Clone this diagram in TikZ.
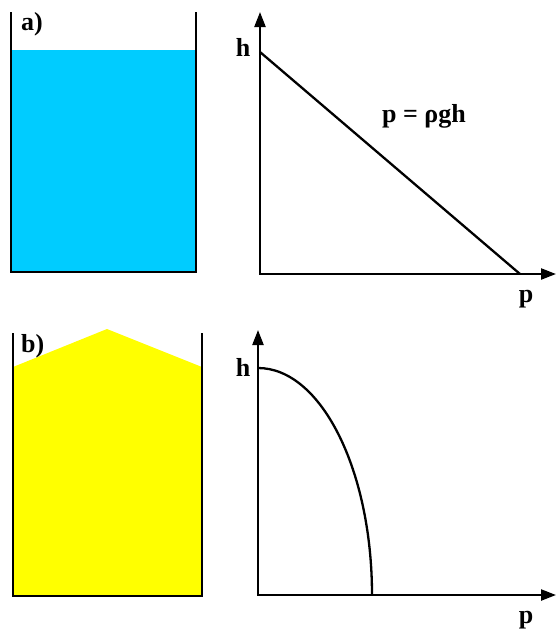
\documentclass[tikz,border=0pt]{standalone}
\usepackage{fontspec}
\setmainfont{Liberation Serif}
\usetikzlibrary{arrows.meta,positioning}
\definecolor{water}{HTML}{00CCFF}
\definecolor{sand}{HTML}{FFFF00}

\begin{document}
\begin{tikzpicture}[x=1pt,y=-1pt,
  every node/.style={font=\bfseries\fontsize{26}{30}\selectfont,inner sep=0pt},
  wall/.style={line width=2.6pt},
  axes/.style={line width=2.3pt,{Triangle[length=15pt,width=11pt]}-{Triangle[length=15pt,width=11pt]}},
  graph/.style={line width=2.3pt}]
\useasboundingbox (0,0) rectangle (556,630);
% a) tank with water
\coordinate (a0) at (11,12);
\coordinate (a1) at (11,272);
\coordinate (a2) at (196,272);
\coordinate (a3) at (196,12);
\fill[water] (11,50) rectangle (196,272);
\draw[wall] (a0)--(a1)--(a2)--(a3);
\node[anchor=base west] (la) at (21,30) {a)};
% a) pressure graph
\coordinate (oa) at (260,274);
\coordinate (ya) at (260,12);
\coordinate (xa) at (556,274);
\coordinate (ha) at (260,52);
\coordinate (pa) at (520,274);
\draw[axes] (ya)--(oa)--(xa);
\draw[graph] (ha)--(pa);
\node[anchor=base] (hla) at (243,56) {h};
\node[anchor=base] (pla) at (526,302) {p};
\node[anchor=base] (eq) at (424,122) {p = ρgh};
% b) tank with sand
\coordinate (b0) at (13,333);
\coordinate (b1) at (13,596);
\coordinate (b2) at (202,596);
\coordinate (b3) at (202,333);
\fill[sand] (13,367)--(107,329)--(202,367)--(202,596)--(13,596)--cycle;
\draw[wall] (b0)--(b1)--(b2)--(b3);
\node[anchor=base west] (lb) at (21,352) {b)};
% b) pressure graph
\coordinate (ob) at (258,595);
\coordinate (yb) at (258,330);
\coordinate (xb) at (556,595);
\coordinate (hb) at (258,368);
\coordinate (pb) at (372,595);
\draw[axes] (yb)--(ob)--(xb);
\draw[graph] (hb) .. controls (321,368) and (372,470) .. (pb);
\node[anchor=base] (hlb) at (243,376) {h};
\node[anchor=base] (plb) at (526,623) {p};
\end{tikzpicture}
\end{document}
